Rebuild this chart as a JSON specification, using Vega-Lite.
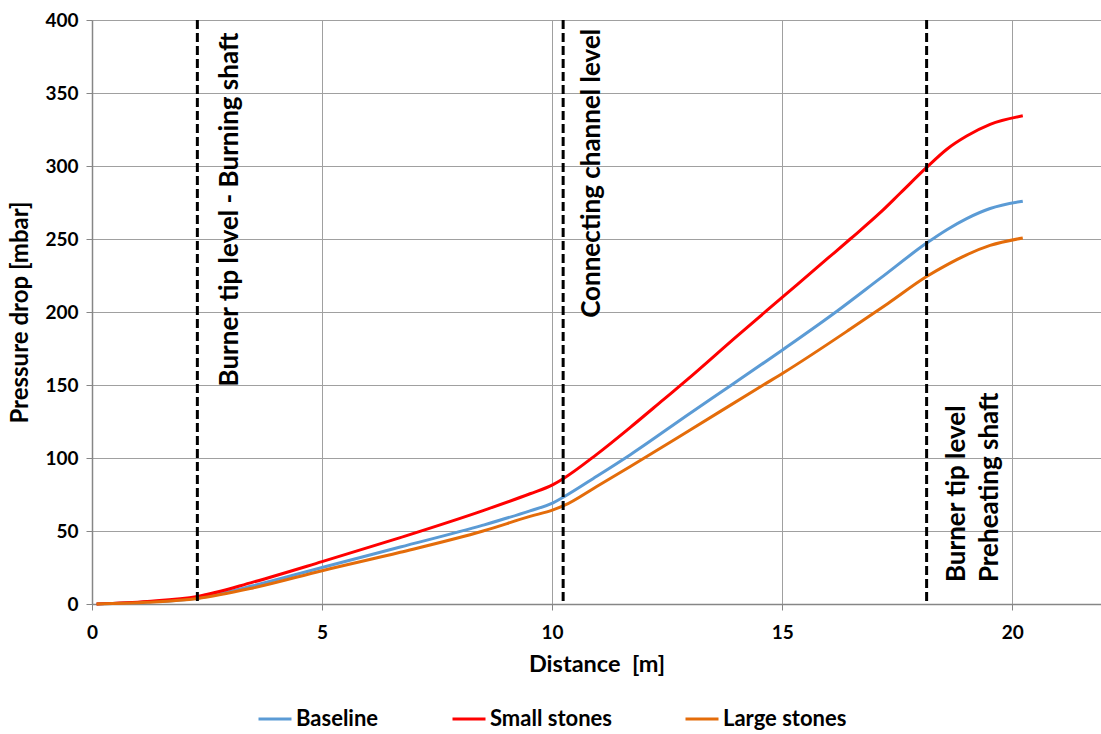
{
  "$schema": "https://vega.github.io/schema/vega-lite/v6.json",
  "width": 1009,
  "height": 584,
  "autosize": "none",
  "padding": {"left": 92, "top": 20, "right": 0, "bottom": 130},
  "background": "white",
  "config": {
    "view": {"stroke": null},
    "font": "Lato",
    "axis": {
      "gridColor": "#a0a0a0", "gridWidth": 1, "domainColor": "#868686", "domainWidth": 1.5,
      "tickColor": "#868686", "tickSize": 6
    }
  },
  "datasets": {
    "curves": [
      {"series": "Baseline", "distance": 0.1, "dp": 0},
      {"series": "Baseline", "distance": 1.2, "dp": 1.3},
      {"series": "Baseline", "distance": 2.29, "dp": 4},
      {"series": "Baseline", "distance": 3.5, "dp": 12.5},
      {"series": "Baseline", "distance": 5, "dp": 25},
      {"series": "Baseline", "distance": 6.7, "dp": 39},
      {"series": "Baseline", "distance": 8.5, "dp": 54},
      {"series": "Baseline", "distance": 9.52, "dp": 63.8},
      {"series": "Baseline", "distance": 10.02, "dp": 69.3},
      {"series": "Baseline", "distance": 10.25, "dp": 73.3},
      {"series": "Baseline", "distance": 10.97, "dp": 87.5},
      {"series": "Baseline", "distance": 11.7, "dp": 102.3},
      {"series": "Baseline", "distance": 13.0, "dp": 130.7},
      {"series": "Baseline", "distance": 13.9, "dp": 150},
      {"series": "Baseline", "distance": 15.03, "dp": 174.5},
      {"series": "Baseline", "distance": 16.19, "dp": 200.5},
      {"series": "Baseline", "distance": 17.13, "dp": 223},
      {"series": "Baseline", "distance": 18.14, "dp": 247.2},
      {"series": "Baseline", "distance": 18.58, "dp": 256.4},
      {"series": "Baseline", "distance": 19.01, "dp": 264},
      {"series": "Baseline", "distance": 19.52, "dp": 270.9},
      {"series": "Baseline", "distance": 20.23, "dp": 275.9},
      {"series": "Small stones", "distance": 0.1, "dp": 0},
      {"series": "Small stones", "distance": 1.2, "dp": 1.8},
      {"series": "Small stones", "distance": 2.29, "dp": 5.2},
      {"series": "Small stones", "distance": 3.5, "dp": 15},
      {"series": "Small stones", "distance": 5, "dp": 29},
      {"series": "Small stones", "distance": 6.7, "dp": 45.5},
      {"series": "Small stones", "distance": 8.5, "dp": 64},
      {"series": "Small stones", "distance": 9.52, "dp": 75.5},
      {"series": "Small stones", "distance": 10.02, "dp": 81.8},
      {"series": "Small stones", "distance": 10.25, "dp": 86},
      {"series": "Small stones", "distance": 10.97, "dp": 102.5},
      {"series": "Small stones", "distance": 11.7, "dp": 121},
      {"series": "Small stones", "distance": 12.42, "dp": 140},
      {"series": "Small stones", "distance": 12.93, "dp": 153.5},
      {"series": "Small stones", "distance": 14, "dp": 183},
      {"series": "Small stones", "distance": 15, "dp": 210},
      {"series": "Small stones", "distance": 16, "dp": 237},
      {"series": "Small stones", "distance": 16.48, "dp": 250},
      {"series": "Small stones", "distance": 17.13, "dp": 268},
      {"series": "Small stones", "distance": 17.57, "dp": 281.5},
      {"series": "Small stones", "distance": 18.14, "dp": 299},
      {"series": "Small stones", "distance": 18.58, "dp": 311.5},
      {"series": "Small stones", "distance": 19.01, "dp": 320.5},
      {"series": "Small stones", "distance": 19.52, "dp": 328.5},
      {"series": "Small stones", "distance": 20.23, "dp": 334.4},
      {"series": "Large stones", "distance": 0.1, "dp": 0},
      {"series": "Large stones", "distance": 1.2, "dp": 1.2},
      {"series": "Large stones", "distance": 2.29, "dp": 3.8},
      {"series": "Large stones", "distance": 3.5, "dp": 11},
      {"series": "Large stones", "distance": 5, "dp": 22.8},
      {"series": "Large stones", "distance": 6.7, "dp": 35.4},
      {"series": "Large stones", "distance": 8.5, "dp": 50},
      {"series": "Large stones", "distance": 9.52, "dp": 60},
      {"series": "Large stones", "distance": 10.02, "dp": 64.5},
      {"series": "Large stones", "distance": 10.25, "dp": 67.3},
      {"series": "Large stones", "distance": 10.97, "dp": 80.5},
      {"series": "Large stones", "distance": 11.7, "dp": 94.2},
      {"series": "Large stones", "distance": 13.0, "dp": 119.2},
      {"series": "Large stones", "distance": 14.59, "dp": 150},
      {"series": "Large stones", "distance": 15.03, "dp": 158.4},
      {"series": "Large stones", "distance": 16.48, "dp": 188.3},
      {"series": "Large stones", "distance": 17.3, "dp": 205.9},
      {"series": "Large stones", "distance": 18.14, "dp": 224.3},
      {"series": "Large stones", "distance": 18.58, "dp": 232.3},
      {"series": "Large stones", "distance": 19.01, "dp": 239.2},
      {"series": "Large stones", "distance": 19.52, "dp": 245.6},
      {"series": "Large stones", "distance": 20.23, "dp": 250.7}
    ],
    "levels": [
      {"level": 2.29},
      {"level": 10.24},
      {"level": 18.14}
    ],
    "notes": [
      {"label": "Burner tip level - Burning shaft", "nx": 3.0, "ny": 149},
      {"label": "Connecting channel level", "nx": 10.87, "ny": 196},
      {"label": "Burner tip level", "nx": 18.8, "ny": 15},
      {"label": "Preheating shaft", "nx": 19.52, "ny": 15}
    ]
  },
  "layer": [
    {
      "data": {"name": "curves"},
      "mark": {"type": "line", "interpolate": "monotone", "strokeWidth": 3},
      "encoding": {
        "x": {
          "field": "distance", "type": "quantitative", "title": "Distance\u00a0 [m]",
          "scale": {"domain": [0, 21.93], "nice": false},
          "axis": {
            "values": [0, 5, 10, 15, 20], "labelPadding": 13, "titlePadding": 10, "labelFlush": false,
            "labelFont": "Lato", "labelFontWeight": "bold", "labelFontSize": 19, "labelColor": "black",
            "titleFont": "Lato", "titleFontWeight": "bold", "titleFontSize": 23.5, "titleColor": "black"
          }
        },
        "y": {
          "field": "dp", "type": "quantitative", "title": "Pressure drop [mbar]",
          "scale": {"domain": [0, 400], "nice": false},
          "axis": {
            "values": [0, 50, 100, 150, 200, 250, 300, 350, 400], "labelPadding": 8, "titlePadding": 12,
            "labelFont": "Lato", "labelFontWeight": "bold", "labelFontSize": 19, "labelColor": "black",
            "titleFont": "Lato", "titleFontWeight": "bold", "titleFontSize": 24, "titleColor": "black"
          }
        },
        "color": {
          "field": "series", "type": "nominal",
          "scale": {"domain": ["Baseline", "Small stones", "Large stones"], "range": ["#5b9bd5", "#ff0000", "#e46c0a"]},
          "legend": {
            "title": null, "orient": "none", "direction": "horizontal",
            "legendX": 165, "legendY": 681, "padding": 0,
            "columnPadding": 67, "labelOffset": 3,
            "symbolType": "stroke", "symbolSize": 1089, "symbolStrokeWidth": 3,
            "labelFont": "Lato", "labelFontWeight": "bold", "labelFontSize": 22, "labelColor": "black"
          }
        }
      }
    },
    {
      "data": {"name": "levels"},
      "mark": {"type": "rule", "color": "black", "strokeWidth": 3, "strokeDash": [9, 4]},
      "encoding": {"x": {"field": "level", "type": "quantitative"}}
    },
    {
      "data": {"name": "notes"},
      "mark": {"type": "text", "angle": 270, "align": "left", "baseline": "middle", "font": "Lato", "fontWeight": "bold", "fontSize": 26, "color": "black"},
      "encoding": {
        "x": {"field": "nx", "type": "quantitative"},
        "y": {"field": "ny", "type": "quantitative"},
        "text": {"field": "label"}
      }
    }
  ]
}
